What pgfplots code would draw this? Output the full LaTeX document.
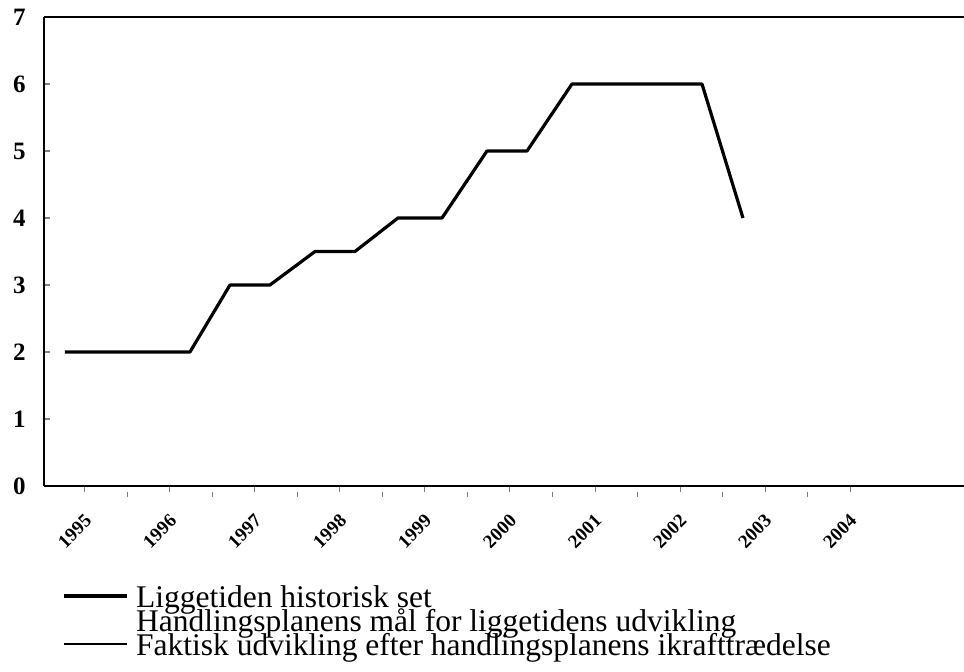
\documentclass[border=0pt]{standalone}
\usepackage{fontspec}
\setmainfont{Liberation Serif}
\usepackage{pgfplots}
\pgfplotsset{compat=1.18}
\begin{document}
\begin{tikzpicture}[x=1pt,y=1pt]
\useasboundingbox (0,0) rectangle (482,335.5);
\begin{axis}[
  at={(22pt,92.5pt)}, anchor=south west,
  scale only axis, width=460pt, height=234.5pt,
  xmin=1994.518, xmax=2005.341, ymin=0, ymax=7,
  clip=false,
  axis lines=left, axis line style={-, line width=0.6pt},
  ytick={0,1,2,3,4,5,6,7},
  xtick={1995,1996,1997,1998,1999,2000,2001,2002,2003,2004},
  xticklabels={1995,1996,1997,1998,1999,2000,2001,2002,2003,2004},
  minor x tick num=1,
  tick align=inside,
  major tick length=3pt, minor tick length=2.5pt,
  xtick style={yshift=-3pt, line width=0.5pt},
  minor x tick style={yshift=-2.5pt, line width=0.5pt},
  ytick style={line width=0.6pt},
  /pgf/number format/assume math mode=true,
  yticklabel style={font=\fontsize{12.5}{12.5}\selectfont\bfseries, anchor=east, inner sep=0pt, xshift=-9pt},
  xticklabel style={font=\fontsize{9.5}{9.5}\selectfont\bfseries, inner sep=0pt, anchor=east, xshift=1.75pt, yshift=-15.75pt, rotate=45},
  legend style={at={(0.0195,-0.2239)}, anchor=north west, draw=none, fill=none, inner sep=0pt, outer sep=0pt,
    font=\fontsize{15.75}{15.75}\selectfont, row sep=0pt, column sep=4pt,
    nodes={inner sep=0pt, text height=8pt, text depth=4pt}},
  legend cell align=left,
  legend image code/.code={\draw[#1] (0pt,3.5pt) -- (31.5pt,3.5pt);},
]
\addplot[black, line width=1.6pt, line join=round] coordinates {
  (1994.765,2) (1996.235,2) (1996.706,3) (1997.176,3) (1997.706,3.5) (1998.176,3.5)
  (1998.682,4) (1999.2,4) (1999.729,5) (2000.2,5) (2000.729,6) (2002.259,6) (2002.741,4)
};
\addlegendentry{Liggetiden historisk set}
\addlegendimage{empty legend}
\addlegendentry{Handlingsplanens mål for liggetidens udvikling}
\addlegendimage{black, line width=1pt}
\addlegendentry{Faktisk udvikling efter handlingsplanens ikrafttrædelse}
\draw[line width=0.6pt] (rel axis cs:0,1) -- (rel axis cs:1,1);
\end{axis}
\end{tikzpicture}
\end{document}
